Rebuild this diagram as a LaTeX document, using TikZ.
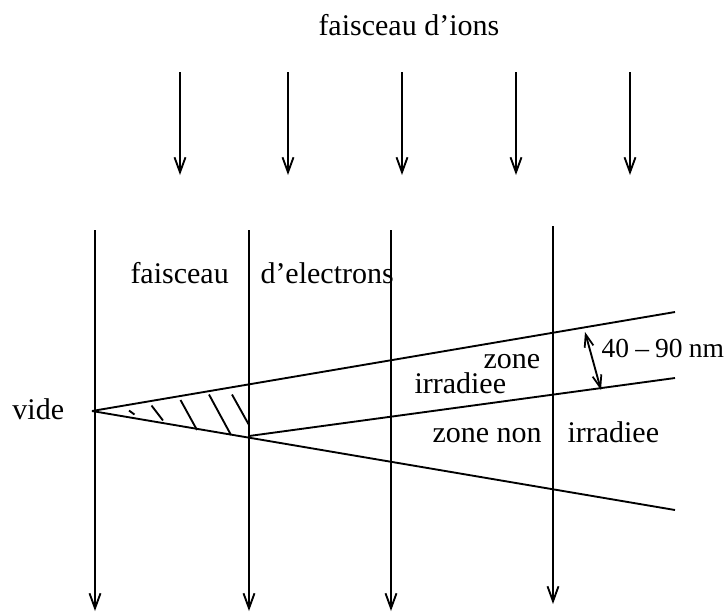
\documentclass[tikz,border=0pt]{standalone}
\usepackage{fontspec}
\setmainfont{Liberation Serif}
\usetikzlibrary{arrows.meta}
\begin{document}
\begin{tikzpicture}[x=0.4pt,y=-0.4pt,
  ln/.style={line width=0.75pt},
  arr/.style={ln,-{Straight Barb[length=6pt,width=4.4pt,line width=0.75pt]}},
  darr/.style={ln,{Straight Barb[length=5pt,width=3.6pt,line width=0.7pt]}-{Straight Barb[length=5pt,width=3.6pt,line width=0.7pt]}},
  lbl/.style={inner sep=0pt,anchor=base west,font=\fontsize{12}{14}\selectfont},
  hatch/.style={ln}]
\useasboundingbox (0,0) rectangle (726,615);
% ion beam
\node[lbl] (ions) at (318,35) {faisceau d’ions};
\foreach \x [count=\i] in {180,288,402,516,630}{
  \coordinate (it\i) at (\x,72);
  \coordinate (ib\i) at (\x,175);
  \draw[arr] (it\i) -- (ib\i);
}
% electron beam lines
\foreach \x/\t/\b [count=\i] in {95/230/611,249/230/611,391/230/611,553/226/604}{
  \coordinate (et\i) at (\x,\t);
  \coordinate (eb\i) at (\x,\b);
  \draw[arr] (et\i) -- (eb\i);
}
% wedge lines
\coordinate (apex) at (92,411);
\coordinate (up) at (675,312);
\coordinate (mid0) at (249,436);
\coordinate (mid) at (675,378);
\coordinate (low) at (675,510);
\draw[ln] (apex) -- (up);
\draw[ln] (apex) -- (low);
\draw[ln] (mid0) -- (mid);
% hatching
\coordinate (h1a) at (129,410.5); \coordinate (h1b) at (134.5,414.5);
\coordinate (h2a) at (151.5,405.5); \coordinate (h2b) at (163,420.5);
\coordinate (h3a) at (180.5,400); \coordinate (h3b) at (197,430);
\coordinate (h4a) at (209,394.5); \coordinate (h4b) at (231,435);
\coordinate (h5a) at (232,394.5); \coordinate (h5b) at (249,425);
\foreach \i in {1,...,5}{\draw[hatch] (h\i a) -- (h\i b);}
% thickness arrow
\coordinate (da) at (585,332);
\coordinate (db) at (601,390);
\draw[darr] (da) -- (db);
% labels
\node[lbl] (fe) at (130,283) {faisceau};
\node[lbl] (de) at (260,283) {d’electrons};
\node[lbl] (vide) at (12,419) {vide};
\node[lbl] (zone) at (483,368) {zone};
\node[lbl] (irr1) at (414,393) {irradiee};
\node[lbl] (zn) at (432,442) {zone non};
\node[lbl] (irr2) at (567,442) {irradiee};
\node[lbl,font=\fontsize{11}{13}\selectfont] (nm) at (601,357) {40\hspace{2.5pt}–\hspace{2.5pt}90\hspace{2.5pt}nm};
\end{tikzpicture}
\end{document}
